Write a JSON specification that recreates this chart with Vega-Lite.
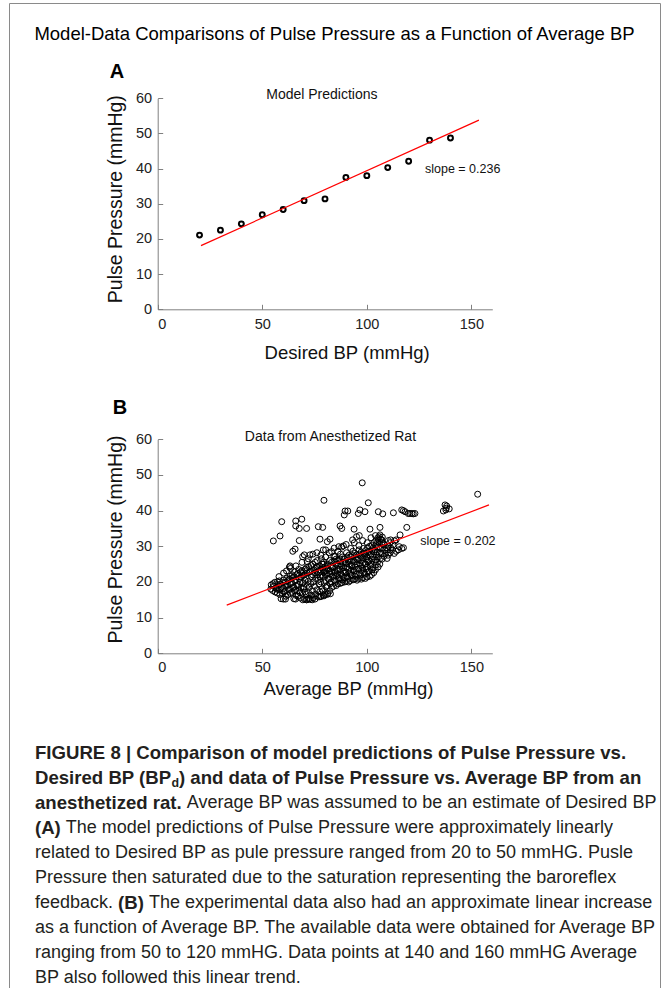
{
"$schema": "https://vega.github.io/schema/vega-lite/v6.json",
"width": 651, "height": 985, "autosize": "none",
"padding": {"left": 9, "top": 3, "right": 6, "bottom": 0},
"background": "#ffffff",
"config": {"view": {"stroke": "#8a8a8a", "strokeWidth": 1}, "font": "Liberation Sans",
 "axis": {"grid": false, "domainColor": "#808080", "tickColor": "#808080", "tickSize": -5, "labelFont": "Liberation Sans", "labelFontSize": 14.5, "labelColor": "#222222", "titleFont": "Liberation Sans", "titleFontWeight": "normal", "titleColor": "#111111"}},
"title": {"text": "Model-Data Comparisons of Pulse Pressure as a Function of Average BP", "fontSize": 18.5, "fontWeight": "normal", "font": "Liberation Sans", "color": "#000000", "anchor": "middle", "frame": "group", "baseline": "middle", "offset": 0, "dy": 49},
"datasets": {
"ptsA": [{"x":20,"y":21.1},{"x":30,"y":22.5},{"x":40,"y":24.3},{"x":50,"y":26.9},{"x":60,"y":28.4},{"x":70,"y":30.9},{"x":80,"y":31.4},{"x":90,"y":37.5},{"x":100,"y":38.0},{"x":110,"y":40.3},{"x":120,"y":42.1},{"x":130,"y":48.1},{"x":140,"y":48.7}],
"fitA": [{"x":20.7,"y":18.1},{"x":153.6,"y":53.8}],
"fitB": [{"x":33,"y":13.5},{"x":158.4,"y":41.6}],
"ptsB": [
{"x":153,"y":44.6},{"x":137.4,"y":41.6},{"x":138.2,"y":41.3},{"x":136.6,"y":39.9},{"x":139.4,"y":40.5},{"x":138,"y":40.7},{"x":137.8,"y":40.2},
{"x":97.8,"y":47.8},{"x":79.5,"y":42.9},{"x":100.7,"y":42.2},{"x":59.3,"y":36.9},{"x":55.3,"y":31.5},{"x":58.5,"y":32.9},
{"x":66,"y":37.1},{"x":68.9,"y":37.6},{"x":66,"y":35.7},{"x":67.7,"y":35},{"x":71.2,"y":35},
{"x":89.6,"y":39.9},{"x":90.9,"y":39.9},{"x":89.2,"y":38.8},{"x":96.7,"y":40.2},{"x":95.9,"y":39.2},{"x":99.1,"y":39.7},
{"x":105.5,"y":39.7},{"x":107.6,"y":39.1},{"x":112.7,"y":39.4},{"x":116.7,"y":40.2},{"x":117.5,"y":40.0},{"x":118.3,"y":39.7},{"x":119.8,"y":39.2},{"x":120.6,"y":39.2},{"x":121.5,"y":39.2},{"x":122.2,"y":39.1},{"x":123,"y":39.2},
{"x":76.8,"y":35.5},{"x":78.9,"y":35.3},{"x":87.2,"y":35.7},{"x":88,"y":35},{"x":93.9,"y":34.8},{"x":101.5,"y":34.8},{"x":106.3,"y":35.3},{"x":119.1,"y":35.3},
{"x":67.7,"y":31.6},{"x":77.6,"y":32},{"x":82.4,"y":32},{"x":79.2,"y":29},{"x":81.1,"y":31.3},{"x":86.6,"y":29.9},
{"x":88.8,"y":30.1},{"x":93.2,"y":31.8},{"x":95.1,"y":32.7},{"x":96.4,"y":33},
{"x":106,"y":32.7},{"x":107.1,"y":31.8},{"x":107.9,"y":30.8},{"x":110.3,"y":31.6},{"x":111.4,"y":31.8},{"x":114,"y":31.8},{"x":115.9,"y":33.2},{"x":115.5,"y":29.9},{"x":116.7,"y":29.4},{"x":117.5,"y":29.6},{"x":115.1,"y":29},{"x":114,"y":28.6},
{"x":65.7,"y":29.2},{"x":64.6,"y":28.6},{"x":69.3,"y":27.1},{"x":70.1,"y":27.6},{"x":72.8,"y":27.6},{"x":63.3,"y":24.5},{"x":68.9,"y":22.6},{"x":71.2,"y":23.2},{"x":71.5,"y":25.7},
{"x":76,"y":24.3},{"x":79.2,"y":25},{"x":80.8,"y":23.8},{"x":83.2,"y":28.5},{"x":84.8,"y":27.1},{"x":85.9,"y":26},{"x":109.7,"y":26.6},{"x":61.6,"y":23.1},{"x":63.5,"y":23.8},
{"x":72,"y":26.5},{"x":74.2,"y":27.8},{"x":76.1,"y":28.2},{"x":78,"y":27.5},{"x":80.3,"y":29.0},{"x":82,"y":28.2},{"x":84.4,"y":29.5},{"x":86.2,"y":28.6},{"x":88,"y":29.8},{"x":90.1,"y":30.5},{"x":92.3,"y":29.4},{"x":94,"y":31.0},{"x":96.2,"y":30.2},{"x":98,"y":31.6},{"x":100.2,"y":31.0},{"x":102,"y":32.4},{"x":104.1,"y":33.0},{"x":60.2,"y":22.5},{"x":63,"y":24.2},{"x":66.1,"y":24.5},{"x":69,"y":25.5},{"x":58,"y":21.5},
{"x":61.1,"y":15.2},{"x":65.9,"y":15.2},{"x":71.2,"y":15},{"x":72.3,"y":15.2},{"x":73.9,"y":15},{"x":77.9,"y":15.9},{"x":79.5,"y":16.1},{"x":81.1,"y":16.5},{"x":82.6,"y":16.7},
{"x":54.1,"y":18.0},{"x":54.3,"y":19.2},
{"x":55.0,"y":17.6},{"x":55.4,"y":18.8},{"x":55.2,"y":19.5},
{"x":56.1,"y":17.2},{"x":56.5,"y":18.3},{"x":56.0,"y":19.9},
{"x":57.2,"y":16.9},{"x":57.0,"y":18.0},{"x":57.6,"y":19.0},{"x":57.3,"y":20.1},
{"x":58.4,"y":16.5},{"x":58.1,"y":17.8},{"x":58.6,"y":19.4},{"x":58.2,"y":20.3},
{"x":59.0,"y":15.3},{"x":59.5,"y":16.8},{"x":59.2,"y":18.5},{"x":59.7,"y":19.8},
{"x":60.1,"y":15.2},{"x":60.4,"y":17.2},{"x":60.0,"y":18.2},{"x":60.6,"y":19.0},{"x":60.3,"y":20.5},
{"x":61.3,"y":16.0},{"x":61.0,"y":17.5},{"x":61.5,"y":18.8},{"x":61.2,"y":20.0},{"x":61.7,"y":21.0},
{"x":62.2,"y":16.4},{"x":62.6,"y":17.8},{"x":62.1,"y":19.2},{"x":62.4,"y":20.4},
{"x":63.4,"y":16.8},{"x":63.1,"y":18.0},{"x":63.6,"y":19.5},{"x":63.0,"y":20.8},{"x":63.3,"y":21.6},
{"x":64.2,"y":17.1},{"x":64.5,"y":18.4},{"x":64.0,"y":19.8},{"x":64.6,"y":21.2},{"x":64.3,"y":22.0},
{"x":65.1,"y":15.3},{"x":65.4,"y":17.5},{"x":65.0,"y":18.6},{"x":65.6,"y":20.2},{"x":65.2,"y":21.5},{"x":65.5,"y":22.8},
{"x":66.3,"y":16.2},{"x":66.0,"y":17.8},{"x":66.6,"y":19.0},{"x":66.2,"y":20.6},{"x":66.5,"y":22.0},
{"x":67.1,"y":16.0},{"x":67.5,"y":17.5},{"x":67.2,"y":19.3},{"x":67.6,"y":21.0},{"x":67.0,"y":22.4},{"x":67.4,"y":23.5},
{"x":68.2,"y":15.5},{"x":68.0,"y":17.0},{"x":68.5,"y":18.4},{"x":68.1,"y":20.0},{"x":68.6,"y":21.4},{"x":68.3,"y":22.8},
{"x":69.4,"y":15.0},{"x":69.1,"y":16.8},{"x":69.6,"y":18.2},{"x":69.2,"y":19.6},{"x":69.5,"y":21.8},{"x":69.0,"y":23.2},
{"x":70.2,"y":15.2},{"x":70.5,"y":17.2},{"x":70.0,"y":18.6},{"x":70.4,"y":20.5},{"x":70.1,"y":22.0},{"x":70.6,"y":23.6},
{"x":71.3,"y":15.0},{"x":71.0,"y":16.5},{"x":71.6,"y":19.0},{"x":71.1,"y":21.0},{"x":71.4,"y":22.5},{"x":71.2,"y":24.0},
{"x":72.4,"y":15.4},{"x":72.1,"y":17.0},{"x":72.5,"y":18.5},{"x":72.0,"y":20.2},{"x":72.6,"y":22.8},{"x":72.2,"y":24.3},
{"x":73.1,"y":15.1},{"x":73.5,"y":16.3},{"x":73.2,"y":19.5},{"x":73.6,"y":21.5},{"x":73.0,"y":23.0},{"x":73.4,"y":24.6},
{"x":74.3,"y":15.6},{"x":74.0,"y":17.5},{"x":74.5,"y":20.0},{"x":74.1,"y":22.0},{"x":74.6,"y":23.4},{"x":74.2,"y":25.0},
{"x":75.2,"y":15.2},{"x":75.5,"y":16.6},{"x":75.0,"y":18.8},{"x":75.4,"y":21.0},{"x":75.1,"y":22.5},{"x":75.6,"y":23.8},{"x":75.3,"y":25.5},
{"x":76.4,"y":16.0},{"x":76.1,"y":17.8},{"x":76.6,"y":20.5},{"x":76.2,"y":22.0},{"x":76.5,"y":23.0},{"x":76.0,"y":24.2},{"x":76.3,"y":26.0},
{"x":77.1,"y":15.8},{"x":77.5,"y":17.3},{"x":77.2,"y":19.5},{"x":77.6,"y":21.4},{"x":77.0,"y":22.6},{"x":77.4,"y":24.5},
{"x":78.2,"y":16.0},{"x":78.5,"y":18.0},{"x":78.0,"y":20.0},{"x":78.4,"y":22.0},{"x":78.1,"y":23.3},{"x":78.6,"y":25.0},{"x":78.3,"y":26.5},
{"x":79.3,"y":16.3},{"x":79.0,"y":17.5},{"x":79.6,"y":19.8},{"x":79.2,"y":21.6},{"x":79.5,"y":22.8},{"x":79.1,"y":24.0},{"x":79.4,"y":25.6},
{"x":80.1,"y":16.5},{"x":80.5,"y":18.6},{"x":80.2,"y":20.4},{"x":80.6,"y":22.0},{"x":80.0,"y":23.2},{"x":80.4,"y":24.4},{"x":80.3,"y":27.0},
{"x":81.4,"y":16.8},{"x":81.1,"y":19.0},{"x":81.5,"y":21.0},{"x":81.0,"y":22.4},{"x":81.6,"y":23.6},{"x":81.2,"y":25.0},
{"x":82.2,"y":17.5},{"x":82.5,"y":19.5},{"x":82.0,"y":20.8},{"x":82.4,"y":22.2},{"x":82.1,"y":23.0},{"x":82.6,"y":24.6},{"x":82.3,"y":26.0},
{"x":83.3,"y":18.5},{"x":83.0,"y":20.0},{"x":83.6,"y":21.5},{"x":83.2,"y":22.8},{"x":83.5,"y":24.0},{"x":83.1,"y":25.5},
{"x":84.1,"y":18.8},{"x":84.5,"y":20.5},{"x":84.2,"y":21.8},{"x":84.6,"y":23.0},{"x":84.0,"y":24.3},{"x":84.4,"y":25.8},{"x":84.3,"y":27.2},
{"x":85.4,"y":19.0},{"x":85.1,"y":20.2},{"x":85.5,"y":21.6},{"x":85.0,"y":22.6},{"x":85.6,"y":23.8},{"x":85.2,"y":25.0},{"x":85.3,"y":26.4},
{"x":86.2,"y":19.5},{"x":86.5,"y":20.8},{"x":86.0,"y":22.0},{"x":86.4,"y":23.4},{"x":86.1,"y":24.6},{"x":86.6,"y":26.0},
{"x":87.3,"y":19.6},{"x":87.0,"y":21.0},{"x":87.6,"y":22.3},{"x":87.2,"y":23.6},{"x":87.5,"y":25.0},{"x":87.1,"y":26.5},{"x":87.4,"y":27.8},
{"x":88.1,"y":19.8},{"x":88.5,"y":20.6},{"x":88.2,"y":21.8},{"x":88.6,"y":23.0},{"x":88.0,"y":24.4},{"x":88.4,"y":25.6},{"x":88.3,"y":27.0},
{"x":89.4,"y":20.0},{"x":89.1,"y":21.2},{"x":89.5,"y":22.6},{"x":89.0,"y":24.0},{"x":89.6,"y":25.2},{"x":89.2,"y":26.4},
{"x":90.2,"y":20.2},{"x":90.5,"y":21.5},{"x":90.0,"y":22.8},{"x":90.4,"y":24.2},{"x":90.1,"y":25.5},{"x":90.6,"y":27.0},{"x":90.3,"y":28.2},
{"x":91.3,"y":20.0},{"x":91.0,"y":21.0},{"x":91.6,"y":22.4},{"x":91.2,"y":23.6},{"x":91.5,"y":25.0},{"x":91.1,"y":26.2},{"x":91.4,"y":27.5},
{"x":92.1,"y":20.4},{"x":92.5,"y":21.8},{"x":92.2,"y":23.0},{"x":92.6,"y":24.4},{"x":92.0,"y":25.8},{"x":92.4,"y":27.0},
{"x":93.4,"y":20.6},{"x":93.1,"y":22.0},{"x":93.5,"y":23.4},{"x":93.0,"y":24.8},{"x":93.6,"y":26.0},{"x":93.2,"y":27.4},{"x":93.3,"y":28.6},
{"x":94.2,"y":20.8},{"x":94.5,"y":21.6},{"x":94.0,"y":23.0},{"x":94.4,"y":24.2},{"x":94.1,"y":25.6},{"x":94.6,"y":26.8},{"x":94.3,"y":28.0},
{"x":95.3,"y":20.5},{"x":95.0,"y":22.2},{"x":95.6,"y":23.6},{"x":95.2,"y":25.0},{"x":95.5,"y":26.2},{"x":95.1,"y":27.6},
{"x":96.1,"y":21.0},{"x":96.5,"y":22.4},{"x":96.2,"y":23.8},{"x":96.6,"y":25.2},{"x":96.0,"y":26.6},{"x":96.4,"y":27.8},{"x":96.3,"y":29.0},
{"x":97.4,"y":20.8},{"x":97.1,"y":22.0},{"x":97.5,"y":23.2},{"x":97.0,"y":24.6},{"x":97.6,"y":26.0},{"x":97.2,"y":27.2},{"x":97.3,"y":28.4},
{"x":98.2,"y":21.2},{"x":98.5,"y":22.6},{"x":98.0,"y":24.0},{"x":98.4,"y":25.4},{"x":98.1,"y":26.8},{"x":98.6,"y":28.0},{"x":98.3,"y":29.4},
{"x":99.3,"y":21.0},{"x":99.0,"y":22.2},{"x":99.6,"y":23.6},{"x":99.2,"y":25.0},{"x":99.5,"y":26.4},{"x":99.1,"y":27.6},{"x":99.4,"y":28.8},
{"x":100.1,"y":21.4},{"x":100.5,"y":22.8},{"x":100.2,"y":24.2},{"x":100.6,"y":25.6},{"x":100.0,"y":27.0},{"x":100.4,"y":28.2},{"x":100.3,"y":29.6},
{"x":101.4,"y":21.6},{"x":101.1,"y":23.0},{"x":101.5,"y":24.6},{"x":101.0,"y":26.0},{"x":101.6,"y":27.4},{"x":101.2,"y":28.6},{"x":101.3,"y":30.0},
{"x":102.2,"y":22.0},{"x":102.5,"y":23.4},{"x":102.0,"y":25.0},{"x":102.4,"y":26.4},{"x":102.1,"y":27.8},{"x":102.6,"y":29.0},{"x":102.3,"y":30.2},
{"x":103.3,"y":22.6},{"x":103.0,"y":24.0},{"x":103.6,"y":25.6},{"x":103.2,"y":27.0},{"x":103.5,"y":28.4},{"x":103.1,"y":29.6},{"x":103.4,"y":31.0},
{"x":104.1,"y":23.4},{"x":104.5,"y":24.8},{"x":104.2,"y":26.2},{"x":104.6,"y":27.6},{"x":104.0,"y":29.0},{"x":104.4,"y":30.4},{"x":104.3,"y":31.6},
{"x":105.4,"y":24.2},{"x":105.1,"y":25.6},{"x":105.5,"y":27.0},{"x":105.0,"y":28.4},{"x":105.6,"y":29.8},{"x":105.2,"y":31.2},{"x":105.3,"y":32.4},
{"x":106.2,"y":25.0},{"x":106.5,"y":26.6},{"x":106.0,"y":28.0},{"x":106.4,"y":29.4},{"x":106.1,"y":30.8},{"x":106.6,"y":32.0},{"x":106.3,"y":33.2},
{"x":107.3,"y":26.4},{"x":107.0,"y":28.0},{"x":107.5,"y":29.6},{"x":107.2,"y":31.0},{"x":107.4,"y":32.6},
{"x":108.2,"y":27.2},{"x":108.5,"y":29.0},{"x":108.1,"y":30.4},
{"x":109.1,"y":28.0},{"x":109.4,"y":29.6},
{"x":110.2,"y":27.5},{"x":110.0,"y":29.0},{"x":110.5,"y":30.0},
{"x":111.1,"y":28.2},{"x":111.4,"y":29.6},{"x":111.0,"y":31.0},
{"x":112.2,"y":29.0},{"x":112.5,"y":30.4},
{"x":113.1,"y":28.0},{"x":113.3,"y":31.5}
],
"cap": [
{"line":1,"part":"b0","text":"FIGURE 8 | Comparison of model predictions of Pulse Pressure vs."},
{"line":2,"part":"b0","text":"Desired BP (BP"},
{"line":2,"part":"sub","text":"d"},
{"line":2,"part":"b2","text":") and data of Pulse Pressure vs. Average BP from an"},
{"line":3,"part":"b0","text":"anesthetized rat."},
{"line":3,"part":"r3","text":"Average BP was assumed to be an estimate of Desired BP"},
{"line":4,"part":"b0","text":"(A)"},
{"line":4,"part":"r4","text":"The model predictions of Pulse Pressure were approximately linearly"},
{"line":5,"part":"r0","text":"related to Desired BP as pule pressure ranged from 20 to 50 mmHG. Pusle"},
{"line":6,"part":"r0","text":"Pressure then saturated due to the saturation representing the baroreflex"},
{"line":7,"part":"r0","text":"feedback."},
{"line":7,"part":"b7","text":"(B)"},
{"line":7,"part":"r7","text":"The experimental data also had an approximate linear increase"},
{"line":8,"part":"r0","text":"as a function of Average BP. The available data were obtained for Average BP"},
{"line":9,"part":"r0","text":"ranging from 50 to 120 mmHG. Data points at 140 and 160 mmHG Average"},
{"line":10,"part":"r0","text":"BP also followed this linear trend."}
]
},
"layer": [
{"layer": [
 {"data": {"name": "ptsA"}, "mark": {"type": "point", "shape": "circle", "filled": false, "size": 24, "strokeWidth": 2, "color": "#000000", "opacity": 1},
  "encoding": {
   "x": {"field": "x", "type": "quantitative", "scale": {"domain": [0, 160], "range": [148.7, 483.3]},
     "axis": {"orient": "bottom", "offset": -678.7, "values": [0, 50, 100, 150], "labelPadding": 20, "labelBaseline": "middle", "title": "Desired BP (mmHg)", "titleFontSize": 18.5, "titleX": 337.7, "titleY": 42.7, "titleBaseline": "middle"}},
   "y": {"field": "y", "type": "quantitative", "scale": {"domain": [0, 60], "range": [306.3, 95.3]},
     "axis": {"orient": "left", "offset": -148.7, "values": [0, 10, 20, 30, 40, 50, 60], "labelPadding": 11, "labelAngle": 0, "labelFontSize": 14.5, "title": "Pulse Pressure (mmHg)", "titleFontSize": 19.5, "titleX": -42.7, "titleY": 195.7, "titleBaseline": "middle", "titleAngle": 270}}
  }},
 {"data": {"name": "fitA"}, "mark": {"type": "line", "color": "#ff0000", "strokeWidth": 1.2},
  "encoding": {"x": {"field": "x", "type": "quantitative"}, "y": {"field": "y", "type": "quantitative"}}},
 {"data": {"values": [{"x": 78.5, "y": 60.9, "t": "Model Predictions"}]}, "mark": {"type": "text", "fontSize": 14, "align": "center", "baseline": "middle", "color": "#111111"},
  "encoding": {"x": {"field": "x", "type": "quantitative"}, "y": {"field": "y", "type": "quantitative"}, "text": {"field": "t"}}},
 {"data": {"values": [{"x": 127.8, "y": 39.9, "t": "slope = 0.236"}]}, "mark": {"type": "text", "fontSize": 12.5, "align": "left", "baseline": "middle", "color": "#111111"},
  "encoding": {"x": {"field": "x", "type": "quantitative"}, "y": {"field": "y", "type": "quantitative"}, "text": {"field": "t"}}},
 {"data": {"values": [{"x": -19.5, "y": 67.5, "t": "A"}]}, "mark": {"type": "text", "fontSize": 20, "fontWeight": "bold", "align": "center", "baseline": "middle", "color": "#000000"},
  "encoding": {"x": {"field": "x", "type": "quantitative"}, "y": {"field": "y", "type": "quantitative"}, "text": {"field": "t"}}}
]},
{"layer": [
 {"data": {"name": "ptsB"}, "mark": {"type": "point", "shape": "circle", "filled": false, "size": 36, "strokeWidth": 1, "color": "#000000", "opacity": 1},
  "encoding": {
   "x": {"field": "x", "type": "quantitative", "scale": {"domain": [0, 160], "range": [148.7, 483.3]},
     "axis": {"orient": "bottom", "offset": -334.7, "values": [0, 50, 100, 150], "labelPadding": 19, "labelBaseline": "middle", "title": "Average BP (mmHg)", "titleFontSize": 18.5, "titleX": 339, "titleY": 35, "titleBaseline": "middle"}},
   "y": {"field": "y", "type": "quantitative", "scale": {"domain": [0, 60], "range": [650.3, 436.3]},
     "axis": {"orient": "left", "offset": -148.7, "values": [0, 10, 20, 30, 40, 50, 60], "labelPadding": 11, "labelAngle": 0, "labelFontSize": 14.5, "title": "Pulse Pressure (mmHg)", "titleFontSize": 19.5, "titleX": -42.7, "titleY": 536, "titleBaseline": "middle", "titleAngle": 270}}
  }},
 {"data": {"name": "fitB"}, "mark": {"type": "line", "color": "#ff0000", "strokeWidth": 1.2},
  "encoding": {"x": {"field": "x", "type": "quantitative"}, "y": {"field": "y", "type": "quantitative"}}},
 {"data": {"values": [{"x": 82.6, "y": 60.7, "t": "Data from Anesthetized Rat"}]}, "mark": {"type": "text", "fontSize": 14, "align": "center", "baseline": "middle", "color": "#111111"},
  "encoding": {"x": {"field": "x", "type": "quantitative"}, "y": {"field": "y", "type": "quantitative"}, "text": {"field": "t"}}},
 {"data": {"values": [{"x": 125.5, "y": 31.6, "t": "slope = 0.202"}]}, "mark": {"type": "text", "fontSize": 12.5, "align": "left", "baseline": "middle", "color": "#111111"},
  "encoding": {"x": {"field": "x", "type": "quantitative"}, "y": {"field": "y", "type": "quantitative"}, "text": {"field": "t"}}},
 {"data": {"values": [{"x": -18, "y": 68.8, "t": "B"}]}, "mark": {"type": "text", "fontSize": 20, "fontWeight": "bold", "align": "center", "baseline": "middle", "color": "#000000"},
  "encoding": {"x": {"field": "x", "type": "quantitative"}, "y": {"field": "y", "type": "quantitative"}, "text": {"field": "t"}}}
]},
{"data": {"name": "cap"},
 "encoding": {"y": {"field": "line", "type": "quantitative", "scale": {"domain": [1, 10], "range": [749.5, 974.5]}, "axis": null}, "text": {"field": "text"}},
 "layer": [
  {"transform": [{"filter": "datum.part == 'b0'"}], "mark": {"type": "text", "align": "left", "baseline": "middle", "fontSize": 18.6, "fontWeight": "bold", "color": "#231f20", "x": 26}},
  {"transform": [{"filter": "datum.part == 'sub'"}], "mark": {"type": "text", "align": "left", "baseline": "middle", "fontSize": 12.4, "fontWeight": "bold", "color": "#231f20", "x": 26, "dx": 136.4, "dy": 5}},
  {"transform": [{"filter": "datum.part == 'b2'"}], "mark": {"type": "text", "align": "left", "baseline": "middle", "fontSize": 18.6, "fontWeight": "bold", "color": "#231f20", "x": 26, "dx": 144}},
  {"transform": [{"filter": "datum.part == 'r0'"}], "mark": {"type": "text", "align": "left", "baseline": "middle", "fontSize": 18, "color": "#231f20", "x": 26}},
  {"transform": [{"filter": "datum.part == 'r3'"}], "mark": {"type": "text", "align": "left", "baseline": "middle", "fontSize": 18, "color": "#231f20", "x": 26, "dx": 151.8}},
  {"transform": [{"filter": "datum.part == 'r4'"}], "mark": {"type": "text", "align": "left", "baseline": "middle", "fontSize": 18, "color": "#231f20", "x": 26, "dx": 30.8}},
  {"transform": [{"filter": "datum.part == 'b7'"}], "mark": {"type": "text", "align": "left", "baseline": "middle", "fontSize": 18.6, "fontWeight": "bold", "color": "#231f20", "x": 26, "dx": 83.1}},
  {"transform": [{"filter": "datum.part == 'r7'"}], "mark": {"type": "text", "align": "left", "baseline": "middle", "fontSize": 18, "color": "#231f20", "x": 26, "dx": 113.9}}
 ]}
],
"resolve": {"scale": {"x": "independent", "y": "independent"}, "axis": {"x": "independent", "y": "independent"}}
}
